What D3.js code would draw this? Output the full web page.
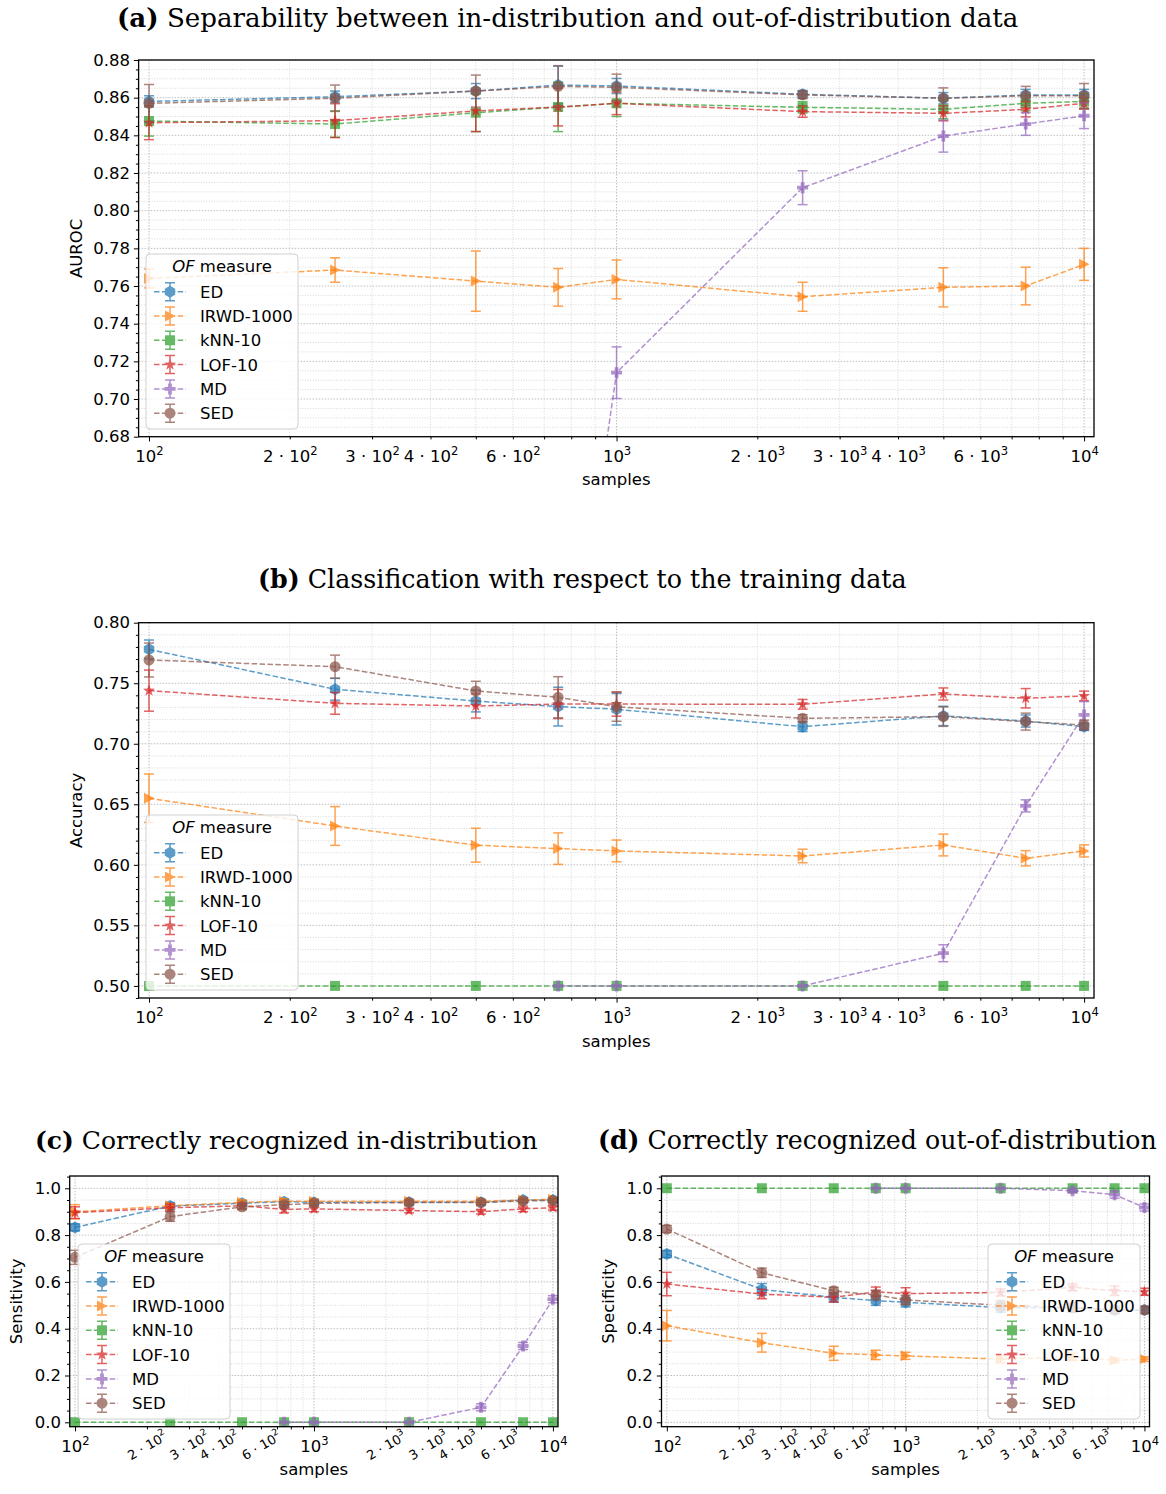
<!DOCTYPE html>
<html lang="en">
<head>
<meta charset="utf-8">
<title>OF measure comparison</title>
<script src="https://d3js.org/d3.v7.min.js"></script>
<style>
  body { margin: 0; background: #fff; }
  svg text { font-family: "DejaVu Sans", sans-serif; fill: #000; }
</style>
</head>
<body>
<div id="chart"></div>
<script>
// x values (number of samples) shared by every panel
const samples = [100, 250, 500, 750, 1000, 2500, 5000, 7500, 10000];
const measures = ["ED", "IRWD-1000", "kNN-10", "LOF-10", "MD", "SED"];
const minorLabels = [200, 300, 400, 600, 2000, 3000, 4000, 6000];

// (a) AUROC
const aucED    = [0.858, 0.8605, 0.8635, 0.8667, 0.8662, 0.8618, 0.8597, 0.8614, 0.8614];
const aucEDSd  = [0.003, 0.003, 0.004, 0.010, 0.004, 0.002, 0.003, 0.003, 0.003];
const aucIRWD  = [0.764, 0.7685, 0.7626, 0.7593, 0.7635, 0.7543, 0.7593, 0.760, 0.7715];
const aucIRWDSd = [0.005, 0.0065, 0.016, 0.010, 0.0103, 0.0077, 0.0104, 0.010, 0.0085];
const aucKNN   = [0.8476, 0.846, 0.852, 0.855, 0.857, 0.8549, 0.8538, 0.857, 0.858];
const aucKNNSd = [0.008, 0.007, 0.010, 0.013, 0.007, 0.003, 0.005, 0.004, 0.004];
const aucLOF   = [0.8467, 0.8478, 0.853, 0.855, 0.857, 0.8526, 0.8517, 0.8538, 0.857];
const aucLOFSd = [0.009, 0.009, 0.011, 0.010, 0.006, 0.003, 0.004, 0.004, 0.003];
const aucMD    = [null, null, null, 0.5, 0.714, 0.8122, 0.8396, 0.846, 0.8504];
const aucMDSd  = [null, null, null, 0, 0.0137, 0.009, 0.0085, 0.006, 0.0068];
const aucSED   = [0.857, 0.8597, 0.8635, 0.866, 0.8655, 0.8615, 0.8597, 0.861, 0.861];
const aucSEDSd = [0.010, 0.007, 0.0085, 0.011, 0.007, 0.002, 0.0055, 0.005, 0.0065];

// (b) Accuracy
const accED    = [0.778, 0.745, 0.7353, 0.7307, 0.7285, 0.7141, 0.723, 0.7188, 0.7141];
const accEDSd  = [0.0077, 0.009, 0.009, 0.016, 0.013, 0.004, 0.008, 0.005, 0.003];
const accIRWD  = [0.655, 0.6321, 0.6162, 0.6134, 0.6115, 0.6073, 0.6164, 0.6054, 0.6115];
const accIRWDSd = [0.02, 0.016, 0.014, 0.013, 0.009, 0.0056, 0.009, 0.0063, 0.005];
const accKNN   = [0.5, 0.5, 0.5, 0.5, 0.5, 0.5, 0.5, 0.5, 0.5];
const accKNNSd = [0, 0, 0, 0, 0, 0, 0, 0, 0];
const accLOF   = [0.7439, 0.7334, 0.7312, 0.7328, 0.7328, 0.7326, 0.7411, 0.7376, 0.7395];
const accLOFSd = [0.017, 0.009, 0.010, 0.012, 0.010, 0.004, 0.005, 0.008, 0.004];
const accMD    = [null, null, null, 0.5, 0.5, 0.5, 0.527, 0.6487, 0.7238];
const accMDSd  = [null, null, null, 0, 0, 0, 0.007, 0.005, 0.011];
const accSED   = [0.7692, 0.7637, 0.7436, 0.7384, 0.7306, 0.721, 0.7224, 0.7183, 0.7155];
const accSEDSd = [0.014, 0.0095, 0.008, 0.017, 0.012, 0.003, 0.008, 0.007, 0.004];

// (c) Sensitivity
const senED    = [0.833, 0.924, 0.936, 0.943, 0.940, 0.940, 0.940, 0.950, 0.950];
const senEDSd  = [0.015, 0.015, 0.010, 0.010, 0.010, 0.010, 0.010, 0.008, 0.008];
const senIRWD  = [0.900, 0.925, 0.940, 0.945, 0.945, 0.945, 0.945, 0.950, 0.953];
const senIRWDSd = [0.030, 0.010, 0.010, 0.010, 0.010, 0.008, 0.008, 0.008, 0.008];
const senKNN   = [0, 0, 0, 0, 0, 0, 0, 0, 0];
const senKNNSd = [0, 0, 0, 0, 0, 0, 0, 0, 0];
const senLOF   = [0.896, 0.917, 0.925, 0.910, 0.912, 0.905, 0.900, 0.912, 0.917];
const senLOFSd = [0.025, 0.015, 0.012, 0.015, 0.012, 0.010, 0.010, 0.012, 0.010];
const senMD    = [null, null, null, 0, 0, 0, 0.064, 0.326, 0.526];
const senMDSd  = [null, null, null, 0, 0, 0, 0.015, 0.015, 0.015];
const senSED   = [0.705, 0.879, 0.921, 0.930, 0.936, 0.939, 0.939, 0.946, 0.948];
const senSEDSd = [0.030, 0.020, 0.012, 0.012, 0.010, 0.010, 0.010, 0.008, 0.008];

// (d) Specificity
const speED    = [0.719, 0.568, 0.534, 0.520, 0.513, 0.490, 0.490, 0.480, 0.480];
const speEDSd  = [0.015, 0.025, 0.020, 0.020, 0.020, 0.020, 0.020, 0.015, 0.015];
const speIRWD  = [0.413, 0.340, 0.295, 0.288, 0.284, 0.270, 0.280, 0.265, 0.270];
const speIRWDSd = [0.065, 0.040, 0.030, 0.020, 0.015, 0.015, 0.015, 0.010, 0.010];
const speKNN   = [1, 1, 1, 1, 1, 1, 1, 1, 1];
const speKNNSd = [0, 0, 0, 0, 0, 0, 0, 0, 0];
const speLOF   = [0.591, 0.548, 0.534, 0.558, 0.550, 0.555, 0.577, 0.562, 0.558];
const speLOFSd = [0.050, 0.020, 0.020, 0.020, 0.025, 0.015, 0.015, 0.020, 0.015];
const speMD    = [null, null, null, 1, 1, 1, 0.990, 0.973, 0.918];
const speMDSd  = [null, null, null, 0, 0, 0, 0.010, 0.015, 0.015];
const speSED   = [0.826, 0.639, 0.562, 0.544, 0.523, 0.500, 0.490, 0.480, 0.480];
const speSEDSd = [0.015, 0.020, 0.015, 0.020, 0.020, 0.020, 0.020, 0.015, 0.015];

const colors = ["#1f77b4", "#ff7f0e", "#2ca02c", "#d62728", "#9467bd", "#8c564b"];
const shapes = ["hexagon", "triangle", "square", "star", "plus", "circle"];
const ALPHA = 0.72;
const FS = 16.5; // ordinary text size

const svg = d3.select("#chart").append("svg")
    .attr("width", 1166)
    .attr("height", 1494);

// marker outlines roughly like matplotlib's h, >, s, *, P, o
function markerPath(shape) {
    const poly = pts => "M" + pts.map(p => p.map(v => v.toFixed(2)).join(",")).join("L") + "Z";
    if (shape === "circle") return d3.symbol(d3.symbolCircle, Math.PI * 5.5 * 5.5)();
    if (shape === "hexagon") {
        return poly(d3.range(6).map(k => {
            const a = -Math.PI / 2 + k * Math.PI / 3;
            return [6 * Math.cos(a), 6 * Math.sin(a)];
        }));
    }
    if (shape === "triangle") return poly([[5.5, 0], [-5, -5.5], [-5, 5.5]]);
    if (shape === "square") return poly([[-5, -5], [5, -5], [5, 5], [-5, 5]]);
    if (shape === "star") {
        return poly(d3.range(10).map(k => {
            const a = -Math.PI / 2 + k * Math.PI / 5, r = k % 2 ? 2.5 : 6.3;
            return [r * Math.cos(a), r * Math.sin(a)];
        }));
    }
    // filled plus
    const a = 5.5, b = 1.9;
    return poly([[-b, -a], [b, -a], [b, -b], [a, -b], [a, b], [b, b], [b, a], [-b, a], [-b, b], [-a, b], [-a, -b], [-b, -b]]);
}

// "m · 10^e" label built from tspans
function sciLabel(text, v, supDy) {
    const e = Math.floor(Math.log10(v) + 1e-9);
    const m = Math.round(v / Math.pow(10, e));
    text.text(null);
    if (m !== 1) text.append("tspan").text(m + " · ");
    text.append("tspan").text("10");
    text.append("tspan").attr("dy", supDy).attr("font-size", "0.7em").text(e);
}

function drawPanel(cfg) {
    const { left, right, top, bottom } = cfg;
    const g = svg.append("g");

    const x = d3.scaleLog().domain([95, 10500]).range([left, right]);
    const y = d3.scaleLinear().domain(cfg.yDomain).range([bottom, top]);

    // grid
    const majorX = [100, 1000, 10000];
    const minorX = [];
    [100, 1000].forEach(b => { for (let k = 2; k <= 9; k++) minorX.push(b * k); });
    const majorY = d3.range(cfg.yTicks[0], cfg.yTicks[1] + 1e-9, cfg.yTicks[2]);
    const minorY = d3.range(cfg.yDomain[0] - cfg.yDomain[0] % cfg.yMinor, cfg.yDomain[1], cfg.yMinor)
        .map(v => +v.toFixed(4))
        .filter(v => v >= cfg.yDomain[0] && v <= cfg.yDomain[1] &&
            !majorY.some(m => Math.abs(m - v) < 1e-6));

    const grid = g.append("g");
    grid.selectAll(".gxm").data(minorX).join("line")
        .attr("x1", d => x(d)).attr("x2", d => x(d)).attr("y1", top).attr("y2", bottom)
        .attr("stroke", "#c8c8c8").attr("stroke-width", 0.7).attr("stroke-dasharray", "1,1.6");
    grid.selectAll(".gym").data(minorY).join("line")
        .attr("x1", left).attr("x2", right).attr("y1", d => y(d)).attr("y2", d => y(d))
        .attr("stroke", "#c8c8c8").attr("stroke-width", 0.7).attr("stroke-dasharray", "1,1.6");
    grid.selectAll(".gxM").data(majorX).join("line")
        .attr("x1", d => x(d)).attr("x2", d => x(d)).attr("y1", top).attr("y2", bottom)
        .attr("stroke", "#b8b8b8").attr("stroke-width", 0.9).attr("stroke-dasharray", "1.5,1.5");
    grid.selectAll(".gyM").data(majorY).join("line")
        .attr("x1", left).attr("x2", right).attr("y1", d => y(d)).attr("y2", d => y(d))
        .attr("stroke", "#b8b8b8").attr("stroke-width", 0.9).attr("stroke-dasharray", "1.5,1.5");

    // data, clipped to the axes
    const clipId = "clip" + cfg.id;
    g.append("clipPath").attr("id", clipId).append("rect")
        .attr("x", left).attr("y", top).attr("width", right - left).attr("height", bottom - top);
    const plot = g.append("g").attr("clip-path", `url(#${clipId})`);

    cfg.means.forEach((vals, i) => {
        const pts = samples.map((s, j) => ({ s, v: vals[j], e: cfg.sds[i][j] }));
        const ok = pts.filter(p => p.v != null);
        const c = colors[i];
        const sg = plot.append("g");

        sg.append("path")
            .datum(pts)
            .attr("d", d3.line().defined(p => p.v != null).x(p => x(p.s)).y(p => y(p.v)))
            .attr("fill", "none").attr("stroke", c).attr("stroke-width", 1.5)
            .attr("stroke-dasharray", "5.5,2.4").attr("opacity", ALPHA);

        const eb = sg.append("g").attr("stroke", c).attr("stroke-width", 1.5).attr("opacity", ALPHA);
        ok.filter(p => p.e > 0).forEach(p => {
            const px = x(p.s), y0 = y(p.v - p.e), y1 = y(p.v + p.e);
            eb.append("line").attr("x1", px).attr("x2", px).attr("y1", y0).attr("y2", y1);
            eb.append("line").attr("x1", px - 5).attr("x2", px + 5).attr("y1", y0).attr("y2", y0);
            eb.append("line").attr("x1", px - 5).attr("x2", px + 5).attr("y1", y1).attr("y2", y1);
        });

        sg.selectAll(".mk").data(ok).join("path")
            .attr("d", markerPath(shapes[i]))
            .attr("transform", p => `translate(${x(p.s)},${y(p.v)})`)
            .attr("fill", c).attr("opacity", ALPHA);
    });

    // axes
    g.append("g").attr("transform", `translate(${left},0)`)
        .call(d3.axisLeft(y).tickValues(majorY).tickFormat(d3.format(cfg.yFmt))
            .tickSizeInner(4.7).tickSizeOuter(0).tickPadding(4));
    g.append("g").attr("transform", `translate(${left},0)`)
        .call(d3.axisLeft(y).tickValues(minorY).tickFormat("").tickSizeInner(2.7).tickSizeOuter(0));

    const xMaj = g.append("g").attr("transform", `translate(0,${bottom})`)
        .call(d3.axisBottom(x).tickValues(majorX).tickFormat(() => "")
            .tickSizeInner(4.7).tickSizeOuter(0).tickPadding(8.5));
    g.append("g").attr("transform", `translate(0,${bottom})`)
        .call(d3.axisBottom(x).tickValues(minorX.filter(v => !minorLabels.includes(v)))
            .tickFormat("").tickSizeInner(2.7).tickSizeOuter(0));
    const xMin = g.append("g").attr("transform", `translate(0,${bottom})`)
        .call(d3.axisBottom(x).tickValues(minorLabels).tickFormat(() => "")
            .tickSizeInner(2.7).tickSizeOuter(0).tickPadding(10.5));

    g.selectAll(".domain").remove();
    g.selectAll(".tick line").attr("stroke", "#000");
    g.selectAll(".tick text").attr("font-size", FS).attr("fill", "#000");

    xMaj.selectAll(".tick text").each(function (d) { sciLabel(d3.select(this), d, -6.5); });
    xMin.selectAll(".tick text").each(function (d) { sciLabel(d3.select(this), d, -6.5); });
    if (cfg.rotateMinor) {
        xMin.selectAll(".tick text")
            .attr("font-size", 13).attr("y", null).attr("dy", null)
            .attr("transform", "translate(0,19) rotate(-30)")
            .attr("text-anchor", "middle");
        xMin.selectAll(".tick text tspan:first-child").attr("dy", "0.35em");
    }

    // frame
    g.append("rect").attr("x", left).attr("y", top)
        .attr("width", right - left).attr("height", bottom - top)
        .attr("fill", "none").attr("stroke", "#000").attr("stroke-width", 1.3);

    // axis labels
    g.append("text").attr("x", (left + right) / 2).attr("y", bottom + 48.5)
        .attr("text-anchor", "middle").attr("font-size", FS).text("samples");
    g.append("text")
        .attr("transform", `translate(${cfg.ylabelX},${(top + bottom) / 2}) rotate(-90)`)
        .attr("text-anchor", "middle").attr("font-size", FS).text(cfg.ylabel);

    // legend
    const L = cfg.legend[0], T = cfg.legend[1];
    const lg = g.append("g");
    lg.append("rect").attr("x", L).attr("y", T).attr("width", 152).attr("height", 175)
        .attr("rx", 4).attr("fill", "#fff").attr("fill-opacity", 0.8)
        .attr("stroke", "#d0d0d0").attr("stroke-width", 1);
    const lt = lg.append("text").attr("x", L + 76).attr("y", T + 18)
        .attr("text-anchor", "middle").attr("font-size", FS);
    lt.append("tspan").attr("font-style", "italic").text("OF");
    lt.append("tspan").text(" measure");
    measures.forEach((name, i) => {
        const cy = T + 37.7 + i * 24.3, c = colors[i];
        const e = lg.append("g").attr("opacity", ALPHA);
        e.append("line").attr("x1", L + 8).attr("x2", L + 40).attr("y1", cy).attr("y2", cy)
            .attr("stroke", c).attr("stroke-width", 1.5).attr("stroke-dasharray", "5.5,2.4");
        e.append("path").attr("d", `M${L + 24},${cy - 9}V${cy + 9}M${L + 19},${cy - 9}H${L + 29}M${L + 19},${cy + 9}H${L + 29}`)
            .attr("stroke", c).attr("stroke-width", 1.5).attr("fill", "none");
        e.append("path").attr("d", markerPath(shapes[i]))
            .attr("transform", `translate(${L + 24},${cy})`).attr("fill", c);
        lg.append("text").attr("x", L + 54).attr("y", cy + 6).attr("font-size", FS).text(name);
    });

    // caption-style title (bold tag + serif text), fitted to the reference width
    const tt = svg.append("text").attr("x", cfg.title.x).attr("y", cfg.title.y)
        .style("font-family", "'DejaVu Serif', serif").attr("font-size", 22);
    tt.append("tspan").attr("font-weight", "bold").text(cfg.title.tag);
    tt.append("tspan").text(" " + cfg.title.text);
    const w = tt.node().getComputedTextLength();
    tt.attr("font-size", 22 * cfg.title.w / w);
}

drawPanel({
    id: "a", left: 138.6, right: 1094, top: 60, bottom: 436.7,
    yDomain: [0.68, 0.88], yTicks: [0.68, 0.88, 0.02], yMinor: 0.005, yFmt: ".2f",
    means: [aucED, aucIRWD, aucKNN, aucLOF, aucMD, aucSED],
    sds: [aucEDSd, aucIRWDSd, aucKNNSd, aucLOFSd, aucMDSd, aucSEDSd],
    ylabel: "AUROC", ylabelX: 82, legend: [146, 254], rotateMinor: false,
    title: { tag: "(a)", text: "Separability between in-distribution and out-of-distribution data", x: 117, y: 27, w: 902 }
});
drawPanel({
    id: "b", left: 138.6, right: 1094, top: 622.7, bottom: 998,
    yDomain: [0.49, 0.80], yTicks: [0.50, 0.80, 0.05], yMinor: 0.01, yFmt: ".2f",
    means: [accED, accIRWD, accKNN, accLOF, accMD, accSED],
    sds: [accEDSd, accIRWDSd, accKNNSd, accLOFSd, accMDSd, accSEDSd],
    ylabel: "Accuracy", ylabelX: 82, legend: [146, 815], rotateMinor: false,
    title: { tag: "(b)", text: "Classification with respect to the training data", x: 258, y: 588, w: 649 }
});
drawPanel({
    id: "c", left: 69.7, right: 558, top: 1176, bottom: 1426.7,
    yDomain: [-0.0188, 1.0526], yTicks: [0, 1, 0.2], yMinor: 0.05, yFmt: ".1f",
    means: [senED, senIRWD, senKNN, senLOF, senMD, senSED],
    sds: [senEDSd, senIRWDSd, senKNNSd, senLOFSd, senMDSd, senSEDSd],
    ylabel: "Sensitivity", ylabelX: 22, legend: [78, 1244], rotateMinor: true,
    title: { tag: "(c)", text: "Correctly recognized in-distribution", x: 35, y: 1149, w: 503 }
});
drawPanel({
    id: "d", left: 661.5, right: 1149.5, top: 1176, bottom: 1426.7,
    yDomain: [-0.0188, 1.0526], yTicks: [0, 1, 0.2], yMinor: 0.05, yFmt: ".1f",
    means: [speED, speIRWD, speKNN, speLOF, speMD, speSED],
    sds: [speEDSd, speIRWDSd, speKNNSd, speLOFSd, speMDSd, speSEDSd],
    ylabel: "Specificity", ylabelX: 614, legend: [988, 1244], rotateMinor: true,
    title: { tag: "(d)", text: "Correctly recognized out-of-distribution", x: 598, y: 1149, w: 559 }
});
</script>
</body>
</html>
